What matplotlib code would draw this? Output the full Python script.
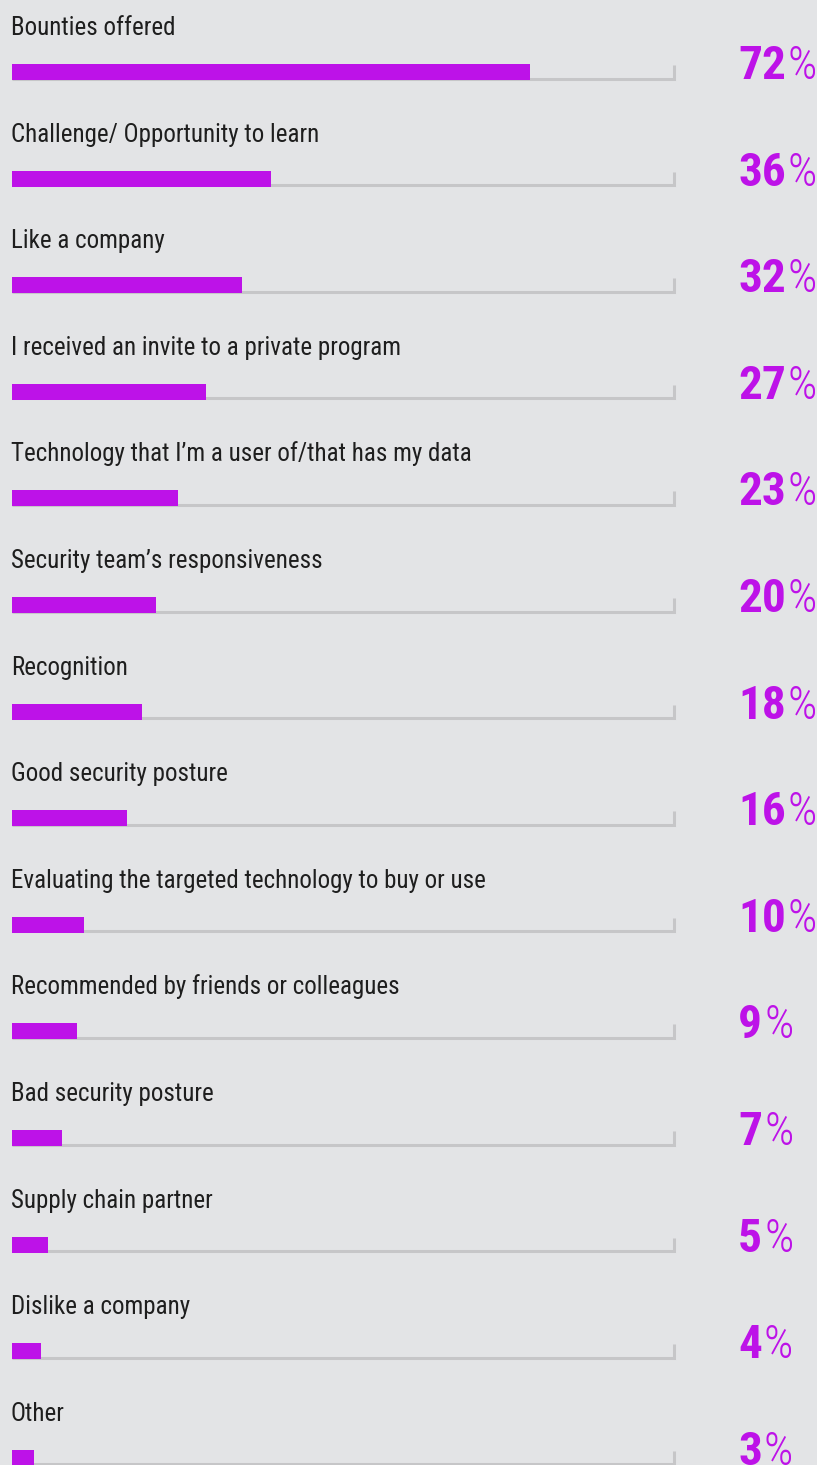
import matplotlib
matplotlib.use("Agg")
import matplotlib.pyplot as plt

# Survey answers and their shares (percent)
reasons = [
    "Bounties offered",
    "Challenge/ Opportunity to learn",
    "Like a company",
    "I received an invite to a private program",
    "Technology that I\u2019m a user of/that has my data",
    "Security team\u2019s responsiveness",
    "Recognition",
    "Good security posture",
    "Evaluating the targeted technology to buy or use",
    "Recommended by friends or colleagues",
    "Bad security posture",
    "Supply chain partner",
    "Dislike a company",
    "Other",
]
shares = [72, 36, 32, 27, 23, 20, 18, 16, 10, 9, 7, 5, 4, 3]

BG = "#e3e4e6"
BAR = "#bd12e8"
TRACK = "#c6c6c8"
LABEL = "#1e1e1e"

W, H = 817, 1465
track_max = 92.0           # value at the right end of each track
x0_px, x1_px = 12, 674     # pixel span of the track
k = track_max / (x1_px - x0_px)

fig = plt.figure(figsize=(W / 100, H / 100), dpi=100, facecolor=BG)
ax = fig.add_axes([0, 0, 1, 1])
ax.set_facecolor(BG)
ax.set_xlim(-x0_px * k, (W - x0_px) * k)
ax.set_ylim(H, 0)
ax.axis("off")

row_gap = 106.6
first_top = 64
bar_h = 16
px = k  # one pixel in x data units

narrow = ["Roboto Condensed", "DejaVu Sans"]
label_font = dict(family=narrow, fontstretch="condensed", fontsize=18,
                  fontweight="normal", color=LABEL)
num_font = dict(family=narrow, fontstretch="condensed", fontsize=34,
                fontweight="bold", color=BAR)
pct_font = dict(family=narrow, fontstretch="condensed", fontsize=33,
                fontweight="light", color=BAR)

tops = [first_top + i * row_gap for i in range(len(shares))]

# grey tracks with a small end tick
for top in tops:
    bottom = top + bar_h
    ax.plot([0, track_max, track_max], [bottom - 1.5, bottom - 1.5, bottom - 15],
            color=TRACK, lw=2.2, solid_capstyle="butt", solid_joinstyle="miter",
            zorder=1)

ax.barh(tops, shares, height=bar_h, left=0, align="edge", color=BAR,
        edgecolor="none", zorder=2)

num_x = (738 - x0_px) * k
for name, v, top in zip(reasons, shares, tops):
    bottom = top + bar_h
    ax.text(-1 * px, top - 29, name, ha="left", va="baseline", **label_font)
    t = ax.text(num_x, bottom - 1, f"{v}", ha="left", va="baseline", **num_font)
    ax.annotate("%", xy=(1, 0), xycoords=t, xytext=(1.5, 0),
                textcoords="offset points", ha="left", va="bottom", **pct_font)

fig.savefig("out.png", dpi=100, facecolor=BG)
